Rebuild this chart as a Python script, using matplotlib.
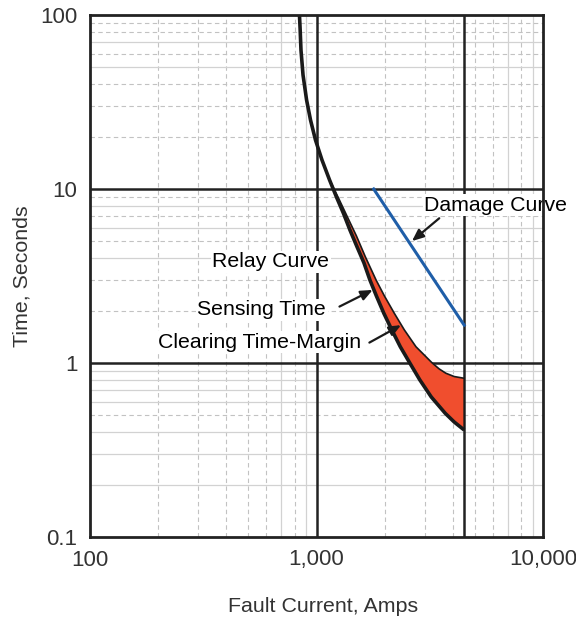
import numpy as np
import matplotlib.pyplot as plt

plt.rcParams['font.family'] = ['Liberation Sans', 'DejaVu Sans']

# relay curve (lower edge of the red band)
relay_amps = [841, 847, 854, 872, 904, 941, 990, 1057, 1141, 1225, 1315, 1405, 1509,
              1620, 1721, 1838, 1983, 2150, 2344, 2582, 2858, 3211, 3701, 4055, 4487]
relay_secs = [100, 82.0, 62.9, 45.2, 32.5, 24.9, 19.1, 14.7, 11.3, 8.99, 7.25, 5.81, 4.66,
              3.76, 3.0, 2.43, 1.93, 1.55, 1.24, 1.0, 0.80, 0.638, 0.514, 0.458, 0.412]

# clearing time (upper edge of the red band)
clear_amps = [1141, 1250, 1369, 1501, 1644, 1832, 1994, 2206, 2442, 2749, 3243, 3483,
              3727, 4055, 4487]
clear_secs = [11.3, 8.88, 6.91, 5.37, 4.07, 3.0, 2.43, 1.93, 1.55, 1.24, 1.0, 0.924,
              0.873, 0.836, 0.817]

# damage curve
damage_amps = [1788, 4487]
damage_secs = [10, 1.65]

x_ticks = [100, 1000, 10000]
x_tick_labels = ['100', '1,000', '10,000']
y_ticks = [0.1, 1, 10, 100]
y_tick_labels = ['0.1', '1', '10', '100']

# grid lines of the chart paper
v_dashed = [200, 300, 400, 500, 600, 800, 2000, 3000, 4000, 5000, 6000, 8000]
v_solid = [700, 900, 7000, 9000]
h_dashed = [20, 30, 40, 60, 80, 90, 2, 3, 5, 7, 9, 0.5]
h_solid = [50, 70, 4, 6, 8, 0.2, 0.3, 0.4, 0.6, 0.7, 0.8, 0.9]
heavy_x = [1000, 4500]
heavy_y = [1, 10]

fig = plt.figure(figsize=(5.76, 6.22), dpi=100)
ax = fig.add_axes([90/576, 85/622, 453/576, 522/622])
ax.set_xscale('log')
ax.set_yscale('log')
ax.set_xlim(100, 10000)
ax.set_ylim(0.1, 100)

for v in v_dashed:
    ax.axvline(v, color='#c2c2c2', lw=0.8, ls=(0, (4, 3)), zorder=1)
for v in v_solid:
    ax.axvline(v, color='#d2d2d2', lw=0.9, zorder=1)
for h in h_dashed:
    ax.axhline(h, color='#c2c2c2', lw=0.8, ls=(0, (4, 3)), zorder=1)
for h in h_solid:
    ax.axhline(h, color='#d2d2d2', lw=0.9, zorder=1)
for v in heavy_x:
    ax.axvline(v, color='#222222', lw=1.8, zorder=2)
for h in heavy_y:
    ax.axhline(h, color='#222222', lw=1.8, zorder=2)

# red band between relay and clearing curves
band_x = clear_amps + relay_amps[8:][::-1]
band_y = clear_secs + relay_secs[8:][::-1]
ax.fill(band_x, band_y, facecolor='#f04e2e', edgecolor='#1a1a1a', lw=1.2,
        joinstyle='round', zorder=3)
ax.plot(relay_amps, relay_secs, color='#1a1a1a', lw=2.6, zorder=4,
        solid_joinstyle='round', solid_capstyle='butt')

ax.plot(damage_amps, damage_secs, color='#1f5ea8', lw=2.2, zorder=4)

# labels
box = dict(facecolor='white', edgecolor='none', pad=1)
fs = 15.3
ax.text(6176, 8.09, 'Damage Curve', fontsize=fs, ha='center', va='center', bbox=box, zorder=5)
ax.text(627, 3.81, 'Relay Curve', fontsize=fs, ha='center', va='center', bbox=box, zorder=5)
ax.text(573, 2.02, 'Sensing Time', fontsize=fs, ha='center', va='center', bbox=box, zorder=5)
ax.text(561, 1.32, 'Clearing Time-Margin', fontsize=fs, ha='center', va='center', bbox=box, zorder=5)

arrow = dict(arrowstyle='-|>,head_length=0.7,head_width=0.3', color='#1a1a1a', lw=1.6,
             shrinkA=0, shrinkB=0)
ax.annotate('', xy=(2640, 5.02), xytext=(3483, 6.79), arrowprops=arrow, zorder=6)
ax.annotate('', xy=(1770, 2.63), xytext=(1263, 2.11), arrowprops=arrow, zorder=6)
ax.annotate('', xy=(2361, 1.65), xytext=(1712, 1.31), arrowprops=arrow, zorder=6)

ax.minorticks_off()
ax.set_xticks(x_ticks)
ax.set_xticklabels(x_tick_labels)
ax.set_yticks(y_ticks)
ax.set_yticklabels(y_tick_labels)
ax.tick_params(which='both', length=0, pad=9, labelsize=16, colors='#333333')
for s in ax.spines.values():
    s.set_linewidth(2)
    s.set_color('#222222')
    s.set_zorder(7)

fig.text(22/576, 1 - 276/622, 'Time, Seconds', rotation=90, fontsize=15.4,
         ha='center', va='center', color='#333333')
fig.text(323/576, 1 - 607/622, 'Fault Current, Amps', fontsize=15.4,
         ha='center', va='center', color='#333333')

fig.savefig('out.png', dpi=100)
